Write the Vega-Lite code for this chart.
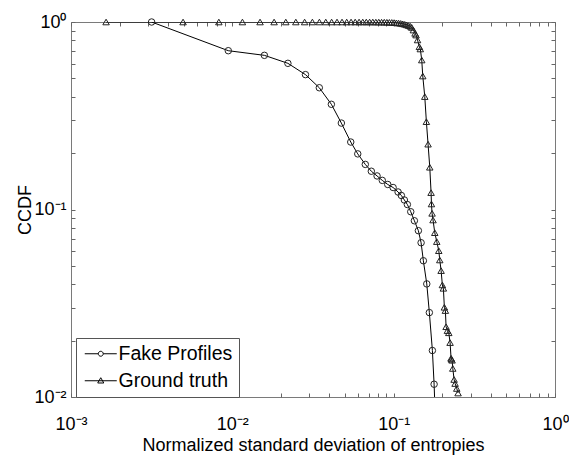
{
  "$schema": "https://vega.github.io/schema/vega-lite/v6.json",
  "width": 484,
  "height": 375,
  "autosize": {"type": "none"},
  "padding": {"left": 71, "top": 22, "right": 14, "bottom": 60},
  "background": "white",
  "config": {
    "view": {"stroke": "#7a7a7a", "strokeWidth": 1, "fill": null},
    "font": "Liberation Sans",
    "axis": {
      "grid": false, "domain": false,
      "labelFont": "Liberation Sans", "labelFontSize": 18, "labelColor": "#000",
      "titleFont": "Liberation Sans", "titleFontSize": 18, "titleFontWeight": "normal", "titleColor": "#000",
      "labelFlush": false, "labelOverlap": false, "labelBound": false
    }
  },
  "data": {"values": [
    {"series": "Fake Profiles", "x": 0.00316, "y": 1.0},
    {"series": "Fake Profiles", "x": 0.00944, "y": 0.703},
    {"series": "Fake Profiles", "x": 0.0158, "y": 0.664},
    {"series": "Fake Profiles", "x": 0.0221, "y": 0.602},
    {"series": "Fake Profiles", "x": 0.0284, "y": 0.524},
    {"series": "Fake Profiles", "x": 0.0346, "y": 0.446},
    {"series": "Fake Profiles", "x": 0.0411, "y": 0.364},
    {"series": "Fake Profiles", "x": 0.0474, "y": 0.289},
    {"series": "Fake Profiles", "x": 0.0542, "y": 0.229},
    {"series": "Fake Profiles", "x": 0.0599, "y": 0.198},
    {"series": "Fake Profiles", "x": 0.0667, "y": 0.174},
    {"series": "Fake Profiles", "x": 0.0727, "y": 0.160},
    {"series": "Fake Profiles", "x": 0.0789, "y": 0.151},
    {"series": "Fake Profiles", "x": 0.0850, "y": 0.143},
    {"series": "Fake Profiles", "x": 0.0919, "y": 0.136},
    {"series": "Fake Profiles", "x": 0.0992, "y": 0.131},
    {"series": "Fake Profiles", "x": 0.1065, "y": 0.124},
    {"series": "Fake Profiles", "x": 0.1116, "y": 0.1188},
    {"series": "Fake Profiles", "x": 0.1165, "y": 0.1124},
    {"series": "Fake Profiles", "x": 0.1216, "y": 0.1063},
    {"series": "Fake Profiles", "x": 0.1276, "y": 0.0973},
    {"series": "Fake Profiles", "x": 0.1344, "y": 0.0871},
    {"series": "Fake Profiles", "x": 0.1423, "y": 0.0771},
    {"series": "Fake Profiles", "x": 0.1479, "y": 0.0665},
    {"series": "Fake Profiles", "x": 0.1528, "y": 0.0533},
    {"series": "Fake Profiles", "x": 0.1604, "y": 0.0401},
    {"series": "Fake Profiles", "x": 0.1664, "y": 0.0282},
    {"series": "Fake Profiles", "x": 0.1738, "y": 0.0177},
    {"series": "Fake Profiles", "x": 0.1781, "y": 0.0117},
    {"series": "Fake Profiles", "x": 0.1819, "y": 0.007},
    {"series": "Ground truth", "x": 0.00165, "y": 1},
    {"series": "Ground truth", "x": 0.00495, "y": 1},
    {"series": "Ground truth", "x": 0.00825, "y": 1},
    {"series": "Ground truth", "x": 0.01155, "y": 1},
    {"series": "Ground truth", "x": 0.01485, "y": 1},
    {"series": "Ground truth", "x": 0.01815, "y": 1},
    {"series": "Ground truth", "x": 0.02145, "y": 1},
    {"series": "Ground truth", "x": 0.02475, "y": 1},
    {"series": "Ground truth", "x": 0.02805, "y": 1},
    {"series": "Ground truth", "x": 0.03135, "y": 1},
    {"series": "Ground truth", "x": 0.03465, "y": 1},
    {"series": "Ground truth", "x": 0.03795, "y": 1},
    {"series": "Ground truth", "x": 0.04125, "y": 1},
    {"series": "Ground truth", "x": 0.04455, "y": 1},
    {"series": "Ground truth", "x": 0.04785, "y": 1},
    {"series": "Ground truth", "x": 0.05115, "y": 1},
    {"series": "Ground truth", "x": 0.05445, "y": 1},
    {"series": "Ground truth", "x": 0.05775, "y": 1},
    {"series": "Ground truth", "x": 0.06105, "y": 1},
    {"series": "Ground truth", "x": 0.06435, "y": 1},
    {"series": "Ground truth", "x": 0.06765, "y": 1},
    {"series": "Ground truth", "x": 0.07095, "y": 1},
    {"series": "Ground truth", "x": 0.07425, "y": 1},
    {"series": "Ground truth", "x": 0.07755, "y": 0.999},
    {"series": "Ground truth", "x": 0.08085, "y": 0.999},
    {"series": "Ground truth", "x": 0.08415, "y": 0.998},
    {"series": "Ground truth", "x": 0.08745, "y": 0.998},
    {"series": "Ground truth", "x": 0.09075, "y": 0.997},
    {"series": "Ground truth", "x": 0.09405, "y": 0.996},
    {"series": "Ground truth", "x": 0.09735, "y": 0.995},
    {"series": "Ground truth", "x": 0.10065, "y": 0.993},
    {"series": "Ground truth", "x": 0.10395, "y": 0.99},
    {"series": "Ground truth", "x": 0.10725, "y": 0.987},
    {"series": "Ground truth", "x": 0.11055, "y": 0.983},
    {"series": "Ground truth", "x": 0.11385, "y": 0.978},
    {"series": "Ground truth", "x": 0.11715, "y": 0.972},
    {"series": "Ground truth", "x": 0.12045, "y": 0.965},
    {"series": "Ground truth", "x": 0.12375, "y": 0.957},
    {"series": "Ground truth", "x": 0.12705, "y": 0.948},
    {"series": "Ground truth", "x": 0.1294, "y": 0.935},
    {"series": "Ground truth", "x": 0.1325, "y": 0.906},
    {"series": "Ground truth", "x": 0.1357, "y": 0.870},
    {"series": "Ground truth", "x": 0.1377, "y": 0.852},
    {"series": "Ground truth", "x": 0.1406, "y": 0.802},
    {"series": "Ground truth", "x": 0.1443, "y": 0.738},
    {"series": "Ground truth", "x": 0.1463, "y": 0.718},
    {"series": "Ground truth", "x": 0.1493, "y": 0.627},
    {"series": "Ground truth", "x": 0.1515, "y": 0.515},
    {"series": "Ground truth", "x": 0.1559, "y": 0.400},
    {"series": "Ground truth", "x": 0.1595, "y": 0.294},
    {"series": "Ground truth", "x": 0.1634, "y": 0.223},
    {"series": "Ground truth", "x": 0.1674, "y": 0.168},
    {"series": "Ground truth", "x": 0.1706, "y": 0.123},
    {"series": "Ground truth", "x": 0.1715, "y": 0.107},
    {"series": "Ground truth", "x": 0.1730, "y": 0.0954},
    {"series": "Ground truth", "x": 0.1754, "y": 0.0879},
    {"series": "Ground truth", "x": 0.1798, "y": 0.0752},
    {"series": "Ground truth", "x": 0.1850, "y": 0.0674},
    {"series": "Ground truth", "x": 0.1904, "y": 0.0603},
    {"series": "Ground truth", "x": 0.1931, "y": 0.0538},
    {"series": "Ground truth", "x": 0.1968, "y": 0.0472},
    {"series": "Ground truth", "x": 0.2004, "y": 0.0396},
    {"series": "Ground truth", "x": 0.2033, "y": 0.0380},
    {"series": "Ground truth", "x": 0.2062, "y": 0.0301},
    {"series": "Ground truth", "x": 0.2092, "y": 0.0289},
    {"series": "Ground truth", "x": 0.2113, "y": 0.0237},
    {"series": "Ground truth", "x": 0.2153, "y": 0.0226},
    {"series": "Ground truth", "x": 0.2196, "y": 0.0220},
    {"series": "Ground truth", "x": 0.2237, "y": 0.0195},
    {"series": "Ground truth", "x": 0.2269, "y": 0.0161},
    {"series": "Ground truth", "x": 0.2275, "y": 0.0159},
    {"series": "Ground truth", "x": 0.2302, "y": 0.0157},
    {"series": "Ground truth", "x": 0.2325, "y": 0.0142},
    {"series": "Ground truth", "x": 0.2369, "y": 0.0124},
    {"series": "Ground truth", "x": 0.2403, "y": 0.0118},
    {"series": "Ground truth", "x": 0.2461, "y": 0.0111},
    {"series": "Ground truth", "x": 0.2507, "y": 0.0105}
  ]},
  "layer": [
    {
      "mark": {"type": "line", "color": "black", "strokeWidth": 1, "clip": true},
      "encoding": {
        "x": {"field": "x", "type": "quantitative", "scale": {"type": "log", "domain": [0.001, 1]},
          "axis": {"orient": "bottom", "title": "Normalized standard deviation of entropies",
            "values": [0.001,0.002,0.003,0.004,0.005,0.006,0.007,0.008,0.009,0.01,0.02,0.03,0.04,0.05,0.06,0.07,0.08,0.09,0.1,0.2,0.3,0.4,0.5,0.6,0.7,0.8,0.9,1],
            "labelExpr": "datum.value === 0.001 ? '10⁻³' : datum.value === 0.01 ? '10⁻²' : datum.value === 0.1 ? '10⁻¹' : datum.value === 1 ? '10⁰' : ''",
            "ticks": true, "tickColor": "#666666", "tickSize": -4, "tickWidth": 1,
            "labelPadding": 22, "titleY": 53, "titleBaseline": "alphabetic"}},
        "y": {"field": "y", "type": "quantitative", "scale": {"type": "log", "domain": [0.01, 1]},
          "axis": {"orient": "left", "title": "CCDF",
            "values": [0.01,0.02,0.03,0.04,0.05,0.06,0.07,0.08,0.09,0.1,0.2,0.3,0.4,0.5,0.6,0.7,0.8,0.9,1],
            "labelExpr": "datum.value === 0.01 ? '10⁻²' : datum.value === 0.1 ? '10⁻¹' : datum.value === 1 ? '10⁰' : ''",
            "ticks": true, "tickColor": "#666666", "tickSize": -4, "tickWidth": 1,
            "labelPadding": 9, "titleX": -41, "titleY": 187.5, "titleAngle": -90, "titleBaseline": "alphabetic", "titleAlign": "center"}},
        "detail": {"field": "series", "type": "nominal"}
      }
    },
    {
      "transform": [{"filter": "datum.y >= 0.01"}],
      "mark": {"type": "point", "filled": false, "stroke": "#222", "strokeWidth": 1, "opacity": 1, "size": 42},
      "encoding": {
        "x": {"field": "x", "type": "quantitative", "scale": {"type": "log", "domain": [0.001, 1]},
          "axis": {"orient": "top", "title": null, "labels": false, "ticks": true, "tickColor": "#666666", "tickSize": -4, "tickWidth": 1,
            "values": [0.001,0.002,0.003,0.004,0.005,0.006,0.007,0.008,0.009,0.01,0.02,0.03,0.04,0.05,0.06,0.07,0.08,0.09,0.1,0.2,0.3,0.4,0.5,0.6,0.7,0.8,0.9,1]}},
        "y": {"field": "y", "type": "quantitative", "scale": {"type": "log", "domain": [0.01, 1]},
          "axis": {"orient": "right", "title": null, "labels": false, "ticks": true, "tickColor": "#666666", "tickSize": -4, "tickWidth": 1,
            "values": [0.01,0.02,0.03,0.04,0.05,0.06,0.07,0.08,0.09,0.1,0.2,0.3,0.4,0.5,0.6,0.7,0.8,0.9,1]}},
        "shape": {"field": "series", "type": "nominal", "scale": {"domain": ["Fake Profiles", "Ground truth"], "range": ["circle", "triangle-up"]}, "legend": null}
      }
    },
    {
      "data": {"values": [{"series": "Fake Profiles"}, {"series": "Ground truth"}]},
      "mark": {"type": "point", "filled": false, "stroke": "black", "strokeWidth": 1, "opacity": 0, "size": 256},
      "encoding": {
        "shape": {"field": "series", "type": "nominal",
          "scale": {"domain": ["Fake Profiles", "Ground truth"], "range": ["M-2,0H-0.31A0.31,0.31 0 1,1 0.31,0A0.31,0.31 0 1,1 -0.31,0M0.31,0H2", "M-2,0H2M0,-0.38L0.38,0.28L-0.38,0.28Z"]},
          "legend": {"title": null, "orient": "none", "legendX": 5, "legendY": 316, "padding": 6, "zindex": 2,
            "strokeColor": "#555", "fillColor": "white", "labelFont": "Liberation Sans", "labelFontSize": 19.5, "labelColor": "black",
            "symbolOffset": 9, "labelOffset": 8, "rowPadding": 6, "symbolSize": 256,
            "symbolStrokeColor": "black", "symbolFillColor": "transparent", "symbolOpacity": 1, "symbolStrokeWidth": 1}}
      }
    }
  ],
  "resolve": {"scale": {"shape": "independent"}, "axis": {"x": "independent", "y": "independent"}}
}
